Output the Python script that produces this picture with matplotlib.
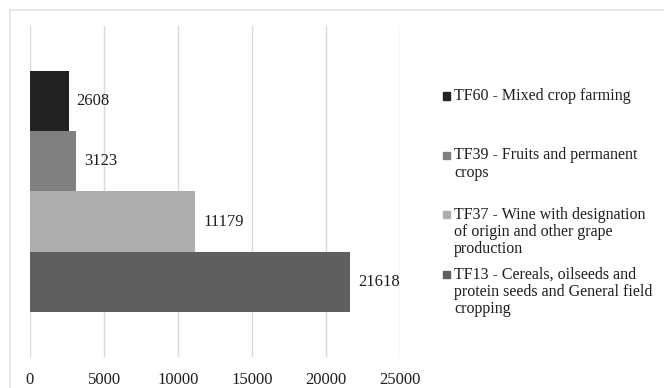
import matplotlib.pyplot as plt
import numpy as np

plt.rcParams['font.family'] = ['Liberation Serif', 'DejaVu Serif']

# farm types, bottom to top
labels = ['TF13 - Cereals, oilseeds and\nprotein seeds and General field\ncropping',
          'TF37 - Wine with designation\nof origin and other grape\nproduction',
          'TF39 - Fruits and permanent\ncrops',
          'TF60 - Mixed crop farming']
values = [21618, 11179, 3123, 2608]
colors = ['#5f5f5f', '#adadad', '#808080', '#222222']
xticks = [0, 5000, 10000, 15000, 20000, 25000]

W, H = 664, 388
fig = plt.figure(figsize=(W / 100, H / 100), dpi=100)
ax = fig.add_axes([30 / W, 1 - 357 / H, 370 / W, 331 / H])

pos = np.arange(len(values))
ax.barh(pos, values, height=1.0, color=colors)
for p, v in zip(pos, values):
    ax.text(v + 550, p, str(v), va='center', ha='left', fontsize=12, color='#1e1e1e')

ax.set_xlim(0, 25000)
ax.set_ylim(-1.25, 4.25)
ax.set_xticks(xticks)
ax.set_xticklabels([str(t) for t in xticks], fontsize=12, color='#1e1e1e')
ax.set_yticks([])
ax.tick_params(axis='x', length=0, pad=11)
ax.grid(axis='x', color='#d9d9d9', linewidth=1)
ax.set_axisbelow(True)
for s in ax.spines.values():
    s.set_visible(False)

# legend drawn by hand, top entry first
legend_y = [96, 164, 232, 292]
for lab, col, y in zip(labels[::-1], colors[::-1], legend_y):
    n = lab.count('\n') + 1
    top = y - (n - 1) * 17.5 / 2
    fig.patches.append(plt.Rectangle((443 / W, 1 - (top + 3.5) / H), 7 / W, 7 / H,
                                     transform=fig.transFigure, color=col))
    fig.text(454 / W, 1 - y / H, lab, va='center', ha='left', fontsize=11.5,
             color='#1e1e1e', linespacing=1.12)

# chart frame
fig.add_artist(plt.Line2D([10 / W, 1], [1 - 10 / H] * 2, color='#e3e3e3', lw=1.2))
fig.add_artist(plt.Line2D([10 / W] * 2, [0, 1 - 10 / H], color='#e3e3e3', lw=1.2))

fig.savefig('out.png', dpi=100)
